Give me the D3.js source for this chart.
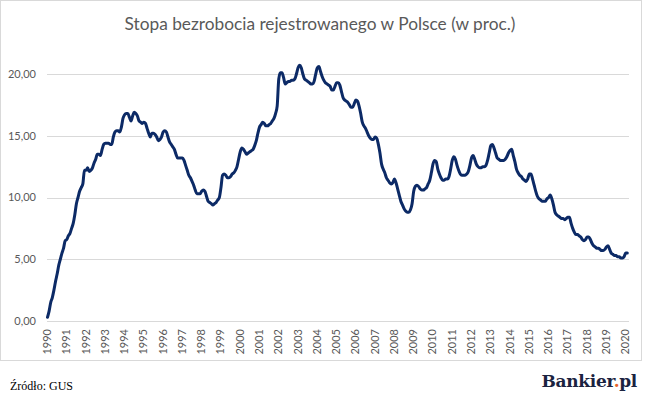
<!DOCTYPE html>
<html><head><meta charset="utf-8">
<script src="https://cdn.jsdelivr.net/npm/d3@7"></script>
<style>html,body{margin:0;padding:0;background:#fff;}svg{display:block;}</style>
</head><body>
<svg id="c" width="645" height="399"></svg>
<script>
const title = "Stopa bezrobocia rejestrowanego w Polsce (w proc.)";
const yearLabels = d3.range(1990, 2021);
const yTicks = [0, 5, 10, 15, 20];
const source = "Źródło: GUS";
// monthly registered unemployment rate, Jan 1990 – Feb 2020
const rates = [
0.3,0.8,1.5,1.9,2.5,3.2,3.8,4.5,5.0,5.5,5.9,6.5,
6.6,6.9,7.1,7.5,7.9,8.6,9.5,10.0,10.5,10.8,11.1,12.2,
12.2,12.4,12.1,12.2,12.4,12.8,13.1,13.5,13.5,13.4,13.9,14.3,
14.4,14.4,14.4,14.3,14.3,14.9,15.3,15.4,15.4,15.3,15.7,16.4,
16.7,16.8,16.8,16.5,16.2,16.6,16.9,16.8,16.6,16.2,16.1,16.0,
16.1,16.0,15.6,15.2,14.9,15.2,15.2,15.1,14.9,14.6,14.7,14.9,
15.3,15.4,15.3,14.9,14.5,14.3,14.1,13.9,13.5,13.2,13.2,13.2,
13.2,13.0,12.6,12.2,11.8,11.6,11.3,11.0,10.6,10.3,10.3,10.3,
10.5,10.6,10.5,10.1,9.7,9.6,9.5,9.4,9.5,9.6,9.8,10.0,
10.8,11.8,11.9,11.8,11.6,11.6,11.7,11.9,12.0,12.2,12.5,13.1,
13.7,14.0,13.9,13.7,13.5,13.6,13.7,13.8,13.9,14.2,14.6,15.2,
15.7,15.9,16.1,16.0,15.8,15.8,15.9,16.0,16.2,16.4,16.8,17.4,
19.6,20.1,20.1,19.7,19.2,19.3,19.4,19.4,19.5,19.5,19.6,20.0,
20.5,20.7,20.5,20.0,19.6,19.5,19.4,19.3,19.2,19.2,19.4,20.0,
20.5,20.6,20.2,19.8,19.5,19.3,19.2,19.1,19.0,18.7,18.7,19.0,
19.3,19.3,19.1,18.6,18.1,17.9,17.8,17.7,17.5,17.3,17.3,17.6,
17.9,17.8,17.4,16.8,16.1,15.8,15.6,15.3,15.0,14.8,14.7,14.7,
14.9,14.8,14.3,13.6,12.7,12.3,12.0,11.6,11.4,11.2,11.1,11.2,
11.5,11.2,10.7,10.2,9.7,9.4,9.1,8.9,8.8,8.8,9.0,9.5,
10.5,10.9,11.0,10.9,10.7,10.6,10.6,10.7,10.8,11.1,11.4,12.0,
12.7,13.0,12.9,12.3,11.9,11.6,11.4,11.4,11.5,11.5,11.7,12.3,
13.0,13.3,13.1,12.6,12.2,11.9,11.8,11.8,11.8,11.9,12.1,12.6,
13.2,13.4,13.1,12.7,12.5,12.4,12.4,12.5,12.5,12.6,13.0,13.6,
14.2,14.3,14.0,13.6,13.2,13.1,13.0,13.0,13.0,13.1,13.3,13.6,
13.8,13.9,13.4,12.9,12.3,12.0,11.8,11.7,11.5,11.4,11.3,11.5,
11.9,11.9,11.5,11.0,10.5,10.1,9.9,9.8,9.7,9.7,9.7,9.9,
10.0,10.2,9.9,9.4,8.8,8.6,8.5,8.4,8.3,8.3,8.2,8.3,
8.4,8.4,7.9,7.5,7.2,7.0,7.0,6.9,6.8,6.6,6.5,6.6,
6.8,6.8,6.6,6.3,6.1,6.0,5.9,5.9,5.8,5.7,5.7,5.8,
6.0,6.1,5.8,5.5,5.4,5.3,5.3,5.2,5.2,5.1,5.1,5.2,
5.5,5.5
];

const svg = d3.select("#c");

// frame
svg.append("rect").attr("x", 0.5).attr("y", 0.5).attr("width", 641).attr("height", 360)
  .attr("fill", "#fff").attr("stroke", "#d9d9d9").attr("stroke-width", 1);

const x = d3.scaleLinear().domain([0, rates.length - 1]).range([47.5, 627.3]);
const y = d3.scaleLinear().domain([0, 20]).range([321, 74]);
const gridX0 = 47, gridX1 = 629;

// gridlines
svg.append("g").selectAll("line").data(yTicks).join("line")
  .attr("x1", gridX0).attr("x2", gridX1)
  .attr("y1", d => Math.round(y(d)) + 0.5).attr("y2", d => Math.round(y(d)) + 0.5)
  .attr("stroke", "#d9d9d9").attr("stroke-width", 1);

// y labels
const fmt = d => d.toFixed(2).replace(".", ",");
svg.append("g").selectAll("text").data(yTicks).join("text")
  .attr("x", 36).attr("y", d => y(d)).attr("dy", "0.35em")
  .attr("text-anchor", "end")
  .attr("font-family", "Lato, 'Open Sans', sans-serif").attr("font-size", 11)
  .attr("fill", "#595959").text(fmt);

// x labels (rotated)
svg.append("g").selectAll("text").data(yearLabels).join("text")
  .attr("transform", d => `translate(${x((d - 1990) * 12) + 3.5},329) rotate(-90)`)
  .attr("text-anchor", "end")
  .attr("font-family", "Lato, 'Open Sans', sans-serif").attr("font-size", 11)
  .attr("fill", "#595959").text(d => d);

// line
const line = d3.line().x((d, i) => x(i)).y(d => y(d)).curve(d3.curveMonotoneX);
svg.append("path").datum(rates).attr("d", line)
  .attr("fill", "none").attr("stroke", "#0c2a66").attr("stroke-width", 3)
  .attr("stroke-linejoin", "round").attr("stroke-linecap", "round");

// title
svg.append("text").attr("x", 320).attr("y", 30).attr("text-anchor", "middle")
  .attr("font-family", "Lato, 'Open Sans', sans-serif").attr("font-size", 17.3)
  .attr("fill", "#595959").text(title);

// footer
svg.append("text").attr("x", 10).attr("y", 390)
  .attr("font-family", "'Liberation Serif', 'Times New Roman', serif").attr("font-size", 12)
  .attr("fill", "#000").text(source);

const logo = svg.append("text").attr("x", 637).attr("y", 387).attr("text-anchor", "end")
  .attr("font-family", "'DejaVu Serif', 'Liberation Serif', serif").attr("font-weight", "bold")
  .attr("font-size", 17).attr("fill", "#1b2340").attr("letter-spacing", -0.3);
logo.append("tspan").text("Bankier");
logo.append("tspan").attr("fill", "#e8632b").text(".");
logo.append("tspan").text("pl");
</script>
</body></html>
